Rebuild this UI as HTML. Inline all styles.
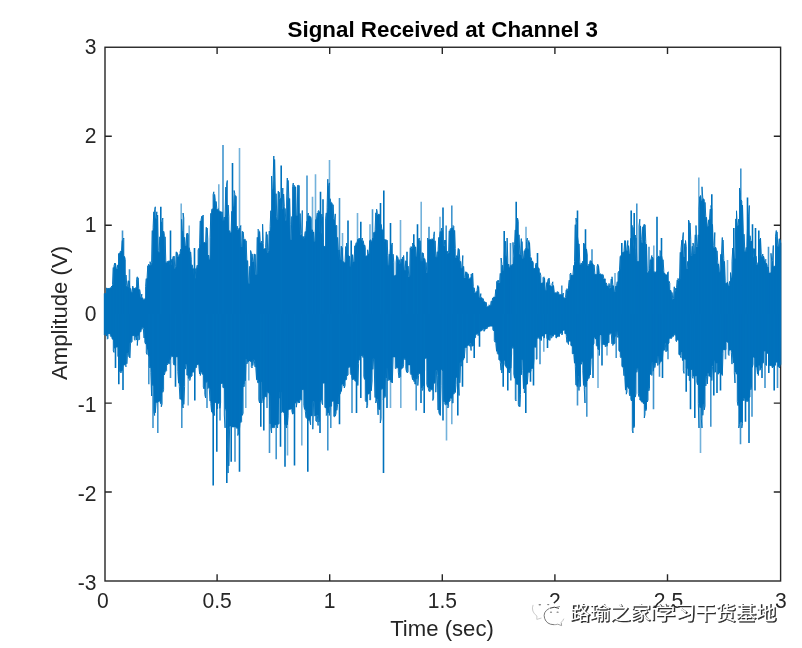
<!DOCTYPE html>
<html lang="en"><head><meta charset="utf-8"><title>Signal Received at Channel 3</title>
<style>html,body{margin:0;padding:0;background:#fff}body{width:802px;height:648px;overflow:hidden}</style></head>
<body>
<svg width="802" height="648" viewBox="0 0 802 648" style="display:block">
<rect width="802" height="648" fill="#fff"/>
<g fill="none" stroke="#262626" stroke-width="1.4">
<rect x="105.0" y="47.25" width="675.6" height="533.75"/>
<path d="M217.1,581.0v-6.8M217.1,47.25v6.8M329.7,581.0v-6.8M329.7,47.25v6.8M442.3,581.0v-6.8M442.3,47.25v6.8M554.9,581.0v-6.8M554.9,47.25v6.8M667.5,581.0v-6.8M667.5,47.25v6.8M105.0,136.2h6.8M780.6,136.2h-6.8M105.0,225.2h6.8M780.6,225.2h-6.8M105.0,314.1h6.8M780.6,314.1h-6.8M105.0,403.1h6.8M780.6,403.1h-6.8M105.0,492h6.8M780.6,492h-6.8"/>
</g>
<g fill="none" stroke="#0072BD" stroke-linejoin="miter" stroke-miterlimit="2">
<path d="M104.3,293.4 L105,293.8 L105.8,293.8 L106.5,293.8 L107.3,288.3 L108,288.6 L108.8,288.6 L109.5,288.6 L110.3,288.4 L111,287.7 L111.8,287.6 L112.5,286 L113.3,284.4 L114,267.5 L114.8,265.8 L115.5,268.5 L116.3,268.7 L117,268.7 L117.8,268.7 L118.5,264.9 L119.3,254 L120,253 L120.8,251.7 L121.5,251.1 L122.3,250.3 L123,240.5 L123.8,256.4 L124.5,259.5 L125.3,275 L126,285.7 L126.8,286.5 L127.5,286.5 L128.3,286.5 L129.1,287.9 L129.8,288.4 L130.6,292.2 L131.3,292.3 L132.1,292.3 L132.8,292.3 L133.6,288.3 L134.3,288.4 L135.1,288.4 L135.8,288.4 L136.6,287.5 L137.3,279.3 L138.1,288.5 L138.8,289.5 L139.6,292.9 L140.3,297.6 L141.1,297.6 L141.8,297.7 L142.6,299.8 L143.3,299.8 L144.1,299.8 L144.8,299.4 L145.6,298.6 L146.3,286.4 L147.1,278.6 L147.8,277.1 L148.6,265.7 L149.3,265.3 L150.1,265.3 L150.8,265.2 L151.6,265.2 L152.3,262.7 L153.1,230.6 L153.8,227.3 L154.6,211.8 L155.3,218.5 L156.1,218.5 L156.8,218.5 L157.6,250.5 L158.3,252.2 L159.1,252.2 L159.8,252.2 L160.6,236.8 L161.3,235.4 L162.1,221.9 L162.8,231.2 L163.6,233.6 L164.3,236.8 L165.1,260.9 L165.8,263.1 L166.6,263.1 L167.3,263.1 L168.1,261.5 L168.8,261.5 L169.6,264.8 L170.3,264.8 L171.1,264.8 L171.8,264.6 L172.6,259.3 L173.3,258.9 L174.1,268.4 L174.8,268.4 L175.6,268.4 L176.3,266.2 L177.1,256.3 L177.8,256.7 L178.6,256.7 L179.3,256.7 L180.1,254.3 L180.8,251.8 L181.6,249.2 L182.3,231.1 L183.1,231.1 L183.8,237.3 L184.6,245.7 L185.3,245.7 L186.1,245.7 L186.8,245.2 L187.6,234.9 L188.3,247.7 L189.1,250.5 L189.8,251.9 L190.6,259.8 L191.3,264.8 L192.1,268 L192.8,268.6 L193.6,272.7 L194.3,278.2 L195.1,278.2 L195.8,278.2 L196.6,268.5 L197.3,268.1 L198.1,265.1 L198.8,250.1 L199.6,248.3 L200.3,243.9 L201.1,220.9 L201.8,219.5 L202.6,216.2 L203.3,242.4 L204.1,242.5 L204.8,243 L205.6,243 L206.3,243 L207.1,239.1 L207.8,255 L208.6,259.6 L209.3,259.6 L210.1,259.6 L210.8,237.3 L211.6,213.3 L212.3,210.1 L213.1,208.7 L213.8,194.7 L214.6,200.3 L215.3,201.5 L216.1,208.3 L216.8,209.6 L217.6,209.6 L218.3,210.6 L219.1,211.5 L219.8,211.7 L220.6,211.8 L221.3,211.9 L222.1,220.3 L222.8,220.5 L223.6,220.5 L224.3,220.5 L225.1,217 L225.8,214 L226.6,187.1 L227.3,205 L228.1,216.7 L228.8,230.6 L229.6,232.7 L230.3,232.7 L231.1,232.7 L231.8,231.6 L232.6,211.3 L233.3,206.3 L234.1,206.3 L234.8,195.5 L235.6,196.7 L236.3,226 L237.1,229.7 L237.8,229.7 L238.6,229.7 L239.3,229.5 L240.1,228 L240.8,246.9 L241.6,246.9 L242.3,246.9 L243.1,238.8 L243.8,239.5 L244.6,239.5 L245.3,240.8 L246.1,259 L246.8,260.6 L247.6,279 L248.3,283.4 L249.1,283.4 L249.8,283.4 L250.6,266.3 L251.3,253.9 L252.1,262 L252.8,262.1 L253.6,262.1 L254.3,262.1 L255.1,274.4 L255.8,274.4 L256.6,274.4 L257.3,274.3 L258.1,237.3 L258.8,231.5 L259.6,242.8 L260.3,242.8 L261.1,242.8 L261.8,242.3 L262.6,243.7 L263.3,249.1 L264.1,249.1 L264.8,249.1 L265.6,248.4 L266.3,247.6 L267.1,252.8 L267.8,252.8 L268.6,252.8 L269.3,250.2 L270.1,231 L270.8,226.6 L271.6,210.7 L272.3,189.2 L273.1,189.2 L273.8,179.2 L274.6,192 L275.3,193.7 L276.1,216.4 L276.8,219.6 L277.6,219.6 L278.3,219.6 L279.1,198.7 L279.8,198.7 L280.6,209.3 L281.3,209.3 L282.1,209.3 L282.8,209.1 L283.6,206.3 L284.3,208.5 L285.1,220.4 L285.8,220.4 L286.6,220.4 L287.3,201 L288.1,196.2 L288.8,198.5 L289.6,224.1 L290.3,239.8 L291.1,239.8 L291.8,239.8 L292.6,216.5 L293.3,186.5 L294.1,186.8 L294.8,186.8 L295.6,215.5 L296.3,215.6 L297.1,215.6 L297.8,215.6 L298.6,185.6 L299.3,213.5 L300.1,234.9 L300.8,234.9 L301.6,234.9 L302.3,236.3 L303.1,238.3 L303.8,238.3 L304.6,238.3 L305.3,235.7 L306.1,231.5 L306.8,230.4 L307.6,221.3 L308.3,216 L309.1,216 L309.8,216.7 L310.6,219.1 L311.3,229.7 L312.1,231 L312.8,232 L313.6,241.5 L314.3,241.5 L315.1,241.5 L315.8,240.1 L316.6,219.5 L317.3,218 L318.1,213 L318.8,211.6 L319.6,231.8 L320.3,233.2 L321.1,233.2 L321.8,233.2 L322.6,242.3 L323.3,245.9 L324.1,246.6 L324.8,246.6 L325.6,246.6 L326.3,218.9 L327.1,212.9 L327.8,207.8 L328.6,185.7 L329.3,198.7 L330.1,202.3 L330.8,202.5 L331.6,204 L332.3,204.7 L333.1,218.6 L333.8,219.5 L334.6,219.5 L335.3,225.5 L336.1,225.5 L336.8,237.4 L337.6,249.4 L338.3,249.8 L339.1,259.3 L339.8,259.6 L340.6,259.6 L341.3,259.6 L342.1,260.2 L342.8,261.6 L343.6,262.8 L344.3,262.8 L345.1,262.8 L345.8,260.9 L346.6,246.5 L347.3,255.4 L348.1,255.7 L348.8,256.2 L349.6,266.6 L350.3,266.6 L351.1,266.6 L351.8,266.5 L352.6,262 L353.3,262 L354.1,262 L354.8,261.1 L355.6,245.8 L356.3,244.8 L357.1,242.7 L357.8,242.3 L358.6,239.3 L359.3,238.9 L360.1,240.3 L360.8,240.3 L361.6,240.3 L362.3,240.7 L363.1,244 L363.8,244.9 L364.6,247.4 L365.3,256.2 L366.1,256.2 L366.8,256.2 L367.6,255.7 L368.3,253.7 L369.1,253.7 L369.8,252.9 L370.6,241.4 L371.3,241.4 L372.1,241.4 L372.8,240.8 L373.6,238 L374.3,232.6 L375.1,232 L375.8,229.8 L376.6,212.8 L377.3,215.1 L378.1,215.1 L378.8,215.1 L379.6,223.9 L380.3,224.4 L381.1,228.7 L381.8,229.7 L382.6,231.4 L383.3,241.4 L384.1,241.4 L384.8,241.4 L385.6,239.8 L386.3,240.2 L387.1,255.7 L387.8,265.2 L388.6,265.2 L389.3,265.2 L390.1,254.1 L390.8,253.3 L391.6,245.1 L392.3,254.2 L393.1,262.3 L393.8,275.7 L394.6,275.7 L395.3,275.7 L396.1,275 L396.8,262.3 L397.6,259.3 L398.3,259.6 L399.1,263.4 L399.8,263.4 L400.6,263.4 L401.3,263.4 L402.1,259.1 L402.8,259 L403.6,267 L404.3,270.2 L405.1,270.2 L405.8,270.2 L406.6,265.8 L407.3,266.1 L408.1,276.9 L408.8,276.9 L409.6,276.9 L410.3,275 L411.1,248.4 L411.8,248.4 L412.6,248.4 L413.3,244.8 L414.1,246.7 L414.8,246.9 L415.6,256.4 L416.3,256.4 L417.1,256.4 L417.8,256 L418.6,239.5 L419.3,240.7 L420.1,257 L420.8,261.3 L421.6,261.3 L422.3,261.3 L423.1,257.6 L423.8,258.5 L424.6,260.6 L425.3,262.5 L426.1,272.7 L426.8,272.7 L427.6,272.7 L428.3,239.9 L429.1,239.9 L429.8,239.9 L430.6,239.6 L431.3,239.6 L432.1,240.1 L432.8,240.1 L433.6,240.1 L434.3,240.8 L435.1,256.1 L435.8,257.2 L436.6,257.2 L437.3,257.2 L438.1,251.7 L438.8,249.3 L439.6,237.4 L440.3,236.7 L441.1,231.5 L441.8,230.8 L442.6,245.2 L443.3,246 L444.1,246 L444.8,246 L445.6,251 L446.3,251 L447.1,253.5 L447.8,253.5 L448.6,253.5 L449.3,252.8 L450.1,230.8 L450.8,229.6 L451.6,228.4 L452.3,228.2 L453.1,227.8 L453.8,230.4 L454.6,248.5 L455.3,258 L456.1,258 L456.8,258 L457.6,255.8 L458.3,255.8 L459.1,259.6 L459.8,261.3 L460.6,268.3 L461.3,268.3 L462.1,268.3 L462.8,266.3 L463.6,277.4 L464.3,278 L465.1,278 L465.8,278 L466.6,273.1 L467.3,273.8 L468.1,278.3 L468.8,278.9 L469.6,278.9 L470.3,278.9 L471.1,277.6 L471.8,274.2 L472.6,286.3 L473.3,287.8 L474.1,292.6 L474.8,292.9 L475.6,292.9 L476.3,292.9 L477.1,291.4 L477.8,289.7 L478.6,297 L479.3,297.8 L480.1,297.8 L480.8,297.8 L481.6,298.1 L482.3,298.6 L483.1,301.2 L483.8,301.6 L484.6,302 L485.3,302.3 L486.1,306.5 L486.8,306.7 L487.6,306.7 L488.3,306.7 L489.1,306.1 L489.8,305.5 L490.6,305.5 L491.3,305.2 L492.1,301.1 L492.8,300.7 L493.6,297.9 L494.3,297.1 L495.1,296.9 L495.8,296.3 L496.6,289.5 L497.3,281.9 L498.1,282.9 L498.8,282.9 L499.6,282.9 L500.3,282.4 L501.1,273.3 L501.8,265.2 L502.6,270.8 L503.3,270.8 L504.1,270.8 L504.8,259.3 L505.6,255.2 L506.3,255.2 L507.1,260 L507.8,264 L508.6,267.4 L509.3,267.6 L510.1,267.6 L510.8,267.6 L511.6,265.5 L512.3,265.5 L513,264.2 L513.8,256.2 L514.5,256.2 L515.3,244.8 L516,229.9 L516.8,229.7 L517.5,221.3 L518.3,234.8 L519,253.3 L519.8,254.8 L520.5,254.8 L521.3,254.8 L522,258.5 L522.8,258.5 L523.5,258.5 L524.3,258.1 L525,250.7 L525.8,249.6 L526.5,248.4 L527.3,248.4 L528,248.4 L528.8,248.4 L529.5,256.5 L530.3,257.6 L531,260.5 L531.8,261.1 L532.5,262.7 L533.3,268.4 L534,268.4 L534.8,268.4 L535.5,268.4 L536.3,264.5 L537,267.4 L537.8,267.9 L538.5,268.6 L539.3,272.7 L540,275.3 L540.8,283.2 L541.5,283.2 L542.3,283.2 L543,282.7 L543.8,277.8 L544.5,290.2 L545.3,290.3 L546,290.3 L546.8,290.3 L547.5,282.5 L548.3,282.1 L549,284.6 L549.8,285.6 L550.5,286.5 L551.3,286.5 L552,286.5 L552.8,285.5 L553.5,292.1 L554.3,292.6 L555,292.9 L555.8,293.3 L556.5,293.3 L557.3,293.3 L558,292.8 L558.8,294.7 L559.5,294.7 L560.3,294.7 L561,295.2 L561.8,295.2 L562.5,295.2 L563.3,297.4 L564,298.3 L564.8,298.3 L565.5,298.3 L566.3,297.5 L567,291 L567.8,291 L568.5,291 L569.3,285.9 L570,280.1 L570.8,275 L571.5,275.2 L572.3,275.2 L573,275.2 L573.8,274.1 L574.5,265.3 L575.3,261.3 L576,224.7 L576.8,236.8 L577.5,242.3 L578.3,243.9 L579,261.9 L579.8,264.9 L580.5,264.9 L581.3,264.9 L582,263.6 L582.8,263.6 L583.5,261.2 L584.3,244.2 L585,248.7 L585.8,249.1 L586.5,255 L587.3,265.9 L588,265.9 L588.8,265.9 L589.5,264.2 L590.3,263.8 L591,261.6 L591.8,263.4 L592.5,264.2 L593.3,265 L594,272.9 L594.8,274.4 L595.5,274.4 L596.3,274.4 L597,274.3 L597.8,266.9 L598.5,273.1 L599.3,274.1 L600,274.1 L600.8,274.7 L601.5,274.7 L602.3,274.7 L603,278.4 L603.8,278.9 L604.5,278.9 L605.3,282.8 L606,284 L606.8,286 L607.5,286 L608.3,286 L609,288.3 L609.8,288.3 L610.5,288.3 L611.3,287.7 L612,284.7 L612.8,285.7 L613.5,292 L614.3,292 L615,292 L615.8,291.8 L616.5,286.1 L617.3,285.8 L618,281.7 L618.8,272.9 L619.5,271.3 L620.3,269.1 L621,256.3 L621.8,256.2 L622.5,256.2 L623.3,252.5 L624,252.1 L624.8,250.7 L625.5,250.6 L626.3,250.6 L627,250.6 L627.8,250.6 L628.5,254.1 L629.3,254.1 L630,254.1 L630.8,253.3 L631.5,238.3 L632.3,227.4 L633,244.1 L633.8,248.5 L634.5,248.5 L635.3,248.5 L636,258.6 L636.8,261.5 L637.5,261.5 L638.3,261.5 L639,261.3 L639.8,226.1 L640.5,239.4 L641.3,242.8 L642,242.8 L642.8,242.8 L643.5,226.8 L644.3,225.8 L645,241.7 L645.8,244.3 L646.5,271.7 L647.3,273.1 L648,273.1 L648.8,273.1 L649.5,271.3 L650.3,268.3 L651,259.7 L651.8,259.3 L652.5,258.6 L653.3,271.4 L654,272.8 L654.8,272.8 L655.5,272.8 L656.3,272.1 L657,271.3 L657.8,258.7 L658.5,257 L659.3,256.8 L660,256.8 L660.8,255.5 L661.5,259.1 L662.3,259.7 L663,270.2 L663.8,273.1 L664.5,273.8 L665.3,274.8 L666,274.9 L666.8,274.9 L667.5,274.9 L668.3,281.2 L669,283.2 L669.8,290 L670.5,291.6 L671.3,292.5 L672,299.3 L672.8,299.3 L673.5,299.3 L674.3,298.4 L675,291.3 L675.8,291.3 L676.5,288.1 L677.3,287.6 L678,280.4 L678.8,280.4 L679.5,280.4 L680.3,279 L681,252.3 L681.8,249 L682.5,240.2 L683.3,256.9 L684,256.9 L684.8,256.9 L685.5,246.8 L686.3,268.9 L687,268.9 L687.8,268.9 L688.5,261.3 L689.3,223 L690,239.6 L690.8,255.7 L691.5,255.7 L692.3,255.7 L693,246.2 L693.8,253.9 L694.5,253.9 L695.3,253.9 L696,246.9 L696.8,246.9 L697.5,246.9 L698.3,246.8 L699,234.8 L699.8,209.5 L700.5,200.8 L701.3,200.8 L702,200.8 L702.8,198.8 L703.5,199.5 L704.3,202.4 L705,217 L705.8,217.3 L706.5,226.4 L707.3,226.4 L708,226.4 L708.8,225.6 L709.5,219.8 L710.3,218.9 L711,209.1 L711.8,224.4 L712.5,245.4 L713.3,247.8 L714,247.8 L714.8,247.8 L715.5,248.6 L716.3,250.8 L717,262.9 L717.8,263.9 L718.5,272.3 L719.3,272.3 L720,272.3 L720.8,269 L721.5,254.3 L722.3,254 L723,258.6 L723.8,261.4 L724.5,280.9 L725.3,283.2 L726,283.2 L726.8,283.2 L727.5,285.8 L728.3,285.8 L729,285.8 L729.8,285.7 L730.5,281.2 L731.3,277.4 L732,277.4 L732.8,261.2 L733.5,258.1 L734.3,258.5 L735,258.5 L735.8,258.5 L736.5,225.8 L737.3,225.8 L738,225.8 L738.8,224.5 L739.5,219 L740.3,199.9 L741,201.1 L741.8,205.1 L742.5,230 L743.3,234.2 L744,249.9 L744.8,252 L745.5,252 L746.3,252 L747,247.4 L747.8,244.1 L748.5,219.2 L749.3,235.7 L750,240.5 L750.8,241.2 L751.5,256.6 L752.3,257.2 L753,257.2 L753.8,257.2 L754.5,254.5 L755.3,256.2 L756,264.8 L756.8,264.8 L757.5,264.8 L758.3,264.4 L759,262.3 L759.8,255.1 L760.5,254.5 L761.3,256.8 L762,256.8 L762.8,256.8 L763.5,258.9 L764.3,260.8 L765,260.8 L765.8,263.3 L766.5,266.2 L767.3,267 L768,272.3 L768.8,273.2 L769.5,273.2 L770.3,273.2 L771,272.7 L771.8,262 L772.5,262 L773.3,266.4 L774,266.4 L774.8,266.4 L775.5,266.1 L776.3,236.2 L777,246 L777.8,246.6 L778.5,246.6 L779.3,246.6 L780,243.5 L780.8,293.4 L780.8,335 L780,364.7 L779.3,365.9 L778.5,366.6 L777.8,362.3 L777,362.1 L776.3,362.1 L775.5,362.1 L774.8,365.2 L774,365.4 L773.3,366.4 L772.5,366.4 L771.8,365.7 L771,365.5 L770.3,365.4 L769.5,365.4 L768.8,353.3 L768,353.3 L767.3,353.3 L766.5,353.3 L765.8,351.2 L765,351 L764.3,351 L763.5,351 L762.8,362.7 L762,362.7 L761.3,362.7 L760.5,368 L759.8,365.4 L759,365.4 L758.3,365.4 L757.5,368 L756.8,367.2 L756,366.8 L755.3,357.7 L754.5,357.3 L753.8,357.3 L753,357.3 L752.3,364.4 L751.5,367.3 L750.8,387.2 L750,389.8 L749.3,397.1 L748.5,397.4 L747.8,401 L747,400.2 L746.3,400.2 L745.5,400.2 L744.8,398.3 L744,398.3 L743.3,398.3 L742.5,400.7 L741.8,422 L741,422 L740.3,422 L739.5,422 L738.8,405.6 L738,401.7 L737.3,374.2 L736.5,372 L735.8,372 L735,372 L734.3,362.9 L733.5,357.8 L732.8,357.8 L732,352.4 L731.3,350 L730.5,350 L729.8,350 L729,350.5 L728.3,342.4 L727.5,341.8 L726.8,341.8 L726,341.8 L725.3,349.2 L724.5,349.8 L723.8,349.8 L723,349.9 L722.3,353.3 L721.5,374.1 L720.8,372.9 L720,372.8 L719.3,372.8 L718.5,372.8 L717.8,363 L717,362.9 L716.3,362.9 L715.5,362.9 L714.8,360.5 L714,360.5 L713.3,360.5 L712.5,364.7 L711.8,366.5 L711,375.6 L710.3,375.6 L709.5,375.6 L708.8,373.2 L708,373.2 L707.3,373.2 L706.5,376.4 L705.8,376.4 L705,385.9 L704.3,404.4 L703.5,404.4 L702.8,404.4 L702,415.3 L701.3,407.4 L700.5,407.4 L699.8,407.4 L699,403.7 L698.3,384.8 L697.5,382.2 L696.8,376.1 L696,375.8 L695.3,375.8 L694.5,375.8 L693.8,376.3 L693,376.3 L692.3,369.5 L691.5,369.5 L690.8,369.5 L690,369.7 L689.3,376 L688.5,375.3 L687.8,368.7 L687,367.9 L686.3,359.3 L685.5,359.2 L684.8,359.2 L684,359.2 L683.3,360.5 L682.5,352.1 L681.8,352.1 L681,352.1 L680.3,355.1 L679.5,354.1 L678.8,340.5 L678,339.7 L677.3,339.7 L676.5,339.7 L675.8,335.4 L675,333.8 L674.3,333.8 L673.5,333.8 L672.8,336.4 L672,336.4 L671.3,337.9 L670.5,338.2 L669.8,338.2 L669,338.8 L668.3,343.1 L667.5,343.7 L666.8,350.6 L666,343.6 L665.3,343.6 L664.5,343.6 L663.8,350.1 L663,350.7 L662.3,351.5 L661.5,360.6 L660.8,361.3 L660,361.9 L659.3,356 L658.5,356 L657.8,356 L657,362.6 L656.3,362.6 L655.5,362.6 L654.8,363.5 L654,365.9 L653.3,362.4 L652.5,362.4 L651.8,362.4 L651,374 L650.3,374 L649.5,374.6 L648.8,388.3 L648,390.9 L647.3,400 L646.5,402 L645.8,409.3 L645,410.8 L644.3,403.8 L643.5,402.5 L642.8,402.2 L642,401.7 L641.3,400.4 L640.5,400 L639.8,396.7 L639,393.5 L638.3,368.6 L637.5,368.6 L636.8,368.6 L636,372.3 L635.3,393.6 L634.5,397.1 L633.8,426.7 L633,427.8 L632.3,401 L631.5,399.2 L630.8,396 L630,394.1 L629.3,388.5 L628.5,386.9 L627.8,386.9 L627,386.9 L626.3,390.1 L625.5,377.8 L624.8,375.7 L624,367.9 L623.3,367.2 L622.5,365.8 L621.8,357.8 L621,356.8 L620.3,351.6 L619.5,350.3 L618.8,337.6 L618,335.6 L617.3,331.5 L616.5,331.5 L615.8,331.5 L615,336.6 L614.3,343.3 L613.5,343.8 L612.8,343.8 L612,334.3 L611.3,333.1 L610.5,333.1 L609.8,333.1 L609,334.5 L608.3,342.4 L607.5,343.1 L606.8,344.6 L606,344.8 L605.3,344.8 L604.5,344.7 L603.8,344.6 L603,344.2 L602.3,335.2 L601.5,334.9 L600.8,334.9 L600,334.9 L599.3,337.1 L598.5,349 L597.8,346.3 L597,345.4 L596.3,339.1 L595.5,337.5 L594.8,337.5 L594,337.5 L593.3,343.2 L592.5,344.9 L591.8,356.9 L591,358.5 L590.3,362.9 L589.5,374.9 L588.8,376.7 L588,378.6 L587.3,378.9 L586.5,380.9 L585.8,385.1 L585,386.9 L584.3,385.4 L583.5,370.8 L582.8,361.8 L582,361.8 L581.3,361.8 L580.5,364.3 L579.8,386.3 L579,375.9 L578.3,375.9 L577.5,375.9 L576.8,385.1 L576,366.2 L575.3,363.2 L574.5,354.5 L573.8,353.9 L573,353.7 L572.3,346 L571.5,345.4 L570.8,341.6 L570,340.8 L569.3,340.8 L568.5,340.8 L567.8,342.4 L567,336.5 L566.3,333.9 L565.5,333.6 L564.8,330.3 L564,330.3 L563.3,330.3 L562.5,330.3 L561.8,333.2 L561,333.2 L560.3,333.2 L559.5,333.3 L558.8,336.2 L558,336.2 L557.3,336.2 L556.5,337.1 L555.8,334.9 L555,334.1 L554.3,334.1 L553.5,334.1 L552.8,336.1 L552,336.3 L551.3,335.1 L550.5,335.1 L549.8,335.1 L549,339.7 L548.3,339.5 L547.5,337.8 L546.8,333.9 L546,333.9 L545.3,333.9 L544.5,333.9 L543.8,335.9 L543,335.9 L542.3,335.9 L541.5,336.1 L540.8,338.8 L540,338.8 L539.3,337.2 L538.5,337.2 L537.8,337.2 L537,338.6 L536.3,347.2 L535.5,347.2 L534.8,347.2 L534,347.3 L533.3,359 L532.5,368.1 L531.8,368.2 L531,369 L530.3,370.6 L529.5,372.3 L528.8,372.3 L528,372.5 L527.3,374.3 L526.5,384.2 L525.8,384.5 L525,385.1 L524.3,388.7 L523.5,370.6 L522.8,359.7 L522,359.7 L521.3,359.7 L520.5,374.9 L519.8,394.5 L519,404.4 L518.3,384.4 L517.5,384.3 L516.8,384.3 L516,384.3 L515.3,378.2 L514.5,374 L513.8,348.6 L513,346.7 L512.3,346.7 L511.6,346.7 L510.8,354 L510.1,368.2 L509.3,370.4 L508.6,371.8 L507.8,368.1 L507.1,367.6 L506.3,366.4 L505.6,364.4 L504.8,360.4 L504.1,360.4 L503.3,360.4 L502.6,361.1 L501.8,364.2 L501.1,362.5 L500.3,360.4 L499.6,359.6 L498.8,354.4 L498.1,353.4 L497.3,351.3 L496.6,343.7 L495.8,342.2 L495.1,340.6 L494.3,330.9 L493.6,329.6 L492.8,326.6 L492.1,325.9 L491.3,325.9 L490.6,325.9 L489.8,326.1 L489.1,326.6 L488.3,326.6 L487.6,326.7 L486.8,327 L486.1,328.9 L485.3,328.9 L484.6,329.2 L483.8,328.8 L483.1,328.8 L482.3,328.8 L481.6,330.3 L480.8,330.8 L480.1,331 L479.3,331.4 L478.6,332.9 L477.8,333.7 L477.1,333.7 L476.3,333.7 L475.6,334.6 L474.8,337.5 L474.1,338.2 L473.3,345 L472.6,345.7 L471.8,346 L471.1,343.3 L470.3,343.3 L469.6,343.3 L468.8,345.3 L468.1,345.3 L467.3,345.3 L466.6,345.5 L465.8,347.5 L465.1,347.7 L464.3,348.2 L463.6,358.2 L462.8,359.7 L462.1,360.3 L461.3,362.8 L460.6,362.8 L459.8,362.8 L459.1,382.8 L458.3,377.8 L457.6,377.5 L456.8,377.5 L456.1,377.5 L455.3,384.6 L454.6,392.5 L453.8,392.5 L453.1,394.2 L452.3,398.2 L451.6,398.2 L450.8,398.2 L450.1,398.2 L449.3,401 L448.6,401.6 L447.8,404.8 L447.1,403 L446.3,403 L445.6,403 L444.8,401.9 L444.1,400.2 L443.3,370.8 L442.6,369.4 L441.8,369.4 L441.1,369.4 L440.3,385.2 L439.6,412.5 L438.8,410 L438.1,375.3 L437.3,370.6 L436.6,370.6 L435.8,370.6 L435.1,382.8 L434.3,382.8 L433.6,383.3 L432.8,390.3 L432.1,388.9 L431.3,388.9 L430.6,388.9 L429.8,389.2 L429.1,388.4 L428.3,387.2 L427.6,384.4 L426.8,358.3 L426.1,358.3 L425.3,358.3 L424.6,358.3 L423.8,369.8 L423.1,385.9 L422.3,387.9 L421.6,376.2 L420.8,374.2 L420.1,372.9 L419.3,372.9 L418.6,372.9 L417.8,375.6 L417.1,378.7 L416.3,378.7 L415.6,378.7 L414.8,381.7 L414.1,378.7 L413.3,378.7 L412.6,375.7 L411.8,374.7 L411.1,373.4 L410.3,364.9 L409.6,364.9 L408.8,364.9 L408.1,365.1 L407.3,371.8 L406.6,368.3 L405.8,359.9 L405.1,358.2 L404.3,358.2 L403.6,358.2 L402.8,364.9 L402.1,367.9 L401.3,368.5 L400.6,369.3 L399.8,376.5 L399.1,372.1 L398.3,367.9 L397.6,367.5 L396.8,367.5 L396.1,367.5 L395.3,357 L394.6,357 L393.8,357 L393.1,357.1 L392.3,358 L391.6,382 L390.8,380.1 L390.1,379.9 L389.3,379.7 L388.6,379.7 L387.8,368.2 L387.1,368.2 L386.3,368.2 L385.6,378 L384.8,396.4 L384.1,396.4 L383.3,388.5 L382.6,388.5 L381.8,388.5 L381.1,389.5 L380.3,409.6 L379.6,409.3 L378.8,409.3 L378.1,399.4 L377.3,399.4 L376.6,399.4 L375.8,397.5 L375.1,370 L374.3,358.7 L373.6,358.7 L372.8,358.7 L372.1,369.3 L371.3,381 L370.6,390.8 L369.8,393.7 L369.1,393.7 L368.3,393.7 L367.6,394.1 L366.8,401.8 L366.1,400.5 L365.3,379.4 L364.6,376.7 L363.8,357.6 L363.1,354.9 L362.3,354.9 L361.6,354.2 L360.8,354.2 L360.1,354.2 L359.3,359.9 L358.6,359.9 L357.8,363.8 L357.1,381.8 L356.3,381.2 L355.6,381 L354.8,379.4 L354.1,379.2 L353.3,379.2 L352.6,377.1 L351.8,374.8 L351.1,373.5 L350.3,366.8 L349.6,366.8 L348.8,366.8 L348.1,367.8 L347.3,375 L346.6,375.8 L345.8,379.2 L345.1,380.2 L344.3,385.5 L343.6,384.1 L342.8,384.1 L342.1,384.1 L341.3,385.6 L340.6,391.5 L339.8,393.1 L339.1,394.3 L338.3,402.8 L337.6,404 L336.8,404.4 L336.1,410.3 L335.3,413.1 L334.6,416.1 L333.8,401.3 L333.1,401.2 L332.3,401.2 L331.6,401.2 L330.8,406.2 L330.1,406.2 L329.3,407.8 L328.6,412.7 L327.8,412.7 L327.1,412.7 L326.3,408.1 L325.6,407.1 L324.8,383.3 L324.1,383.1 L323.3,383.1 L322.6,383.1 L321.8,400.1 L321.1,400.1 L320.3,400.1 L319.6,401.6 L318.8,420.5 L318.1,414.9 L317.3,414.9 L316.6,414.9 L315.8,415.9 L315.1,415.7 L314.3,401.5 L313.6,401.5 L312.8,401.5 L312.1,415.7 L311.3,415.7 L310.6,415.7 L309.8,420.4 L309.1,420.2 L308.3,418.9 L307.6,418.7 L306.8,417.7 L306.1,411.4 L305.3,409.4 L304.6,405.5 L303.8,389.8 L303.1,389.5 L302.3,389.5 L301.6,389.5 L300.8,399.6 L300.1,399.6 L299.3,400.2 L298.6,402.6 L297.8,401.4 L297.1,401.4 L296.3,401.4 L295.6,403 L294.8,403 L294.1,403.3 L293.3,413.2 L292.6,410.8 L291.8,409 L291.1,409 L290.3,409 L289.6,409 L288.8,409 L288.1,410.1 L287.3,415.6 L286.6,424.8 L285.8,424.6 L285.1,413.8 L284.3,412.5 L283.6,412.2 L282.8,411.6 L282.1,411.6 L281.3,391.9 L280.6,391.9 L279.8,391.9 L279.1,398.2 L278.3,423.7 L277.6,424.2 L276.8,424.7 L276.1,424.7 L275.3,424.7 L274.6,424.7 L273.8,427.4 L273.1,427.4 L272.3,427.4 L271.6,427.7 L270.8,423.8 L270.1,395.3 L269.3,393.2 L268.6,392.1 L267.8,391.8 L267.1,391.8 L266.3,391.8 L265.6,396.5 L264.8,396.5 L264.1,397 L263.3,396.9 L262.6,396.9 L261.8,381.8 L261.1,381.8 L260.3,381.8 L259.6,381.8 L258.8,383.1 L258.1,380.4 L257.3,379.7 L256.6,368.1 L255.8,366.9 L255.1,360.9 L254.3,359.7 L253.6,359.7 L252.8,359.7 L252.1,365.5 L251.3,361.6 L250.6,361 L249.8,360.9 L249.1,360.9 L248.3,360.9 L247.6,361.8 L246.8,358.9 L246.1,358.9 L245.3,358.9 L244.6,380.8 L243.8,384.4 L243.1,387 L242.3,413.1 L241.6,415.4 L240.8,421.8 L240.1,421.9 L239.3,421.9 L238.6,431 L237.8,428.5 L237.1,427.9 L236.3,426.9 L235.6,426.7 L234.8,426.7 L234.1,426.7 L233.3,426.9 L232.6,426.9 L231.8,425.9 L231.1,425.9 L230.3,425.9 L229.6,425.9 L228.8,427.9 L228.1,446.9 L227.3,411.9 L226.6,408.9 L225.8,408.9 L225.1,408.9 L224.3,388.1 L223.6,387.1 L222.8,383.5 L222.1,383.4 L221.3,383.4 L220.6,383.4 L219.8,402.9 L219.1,403 L218.3,403 L217.6,403.5 L216.8,402.4 L216.1,402.4 L215.3,402.4 L214.6,402.7 L213.8,413 L213.1,413 L212.3,411.8 L211.6,403.5 L210.8,401.1 L210.1,389.1 L209.3,387.8 L208.6,387.8 L207.8,381.6 L207.1,381.6 L206.3,381.6 L205.6,382.3 L204.8,389 L204.1,387.1 L203.3,374.5 L202.6,372.7 L201.8,372 L201.1,372 L200.3,372 L199.6,366.2 L198.8,364.4 L198.1,364.4 L197.3,364.4 L196.6,364.7 L195.8,367.4 L195.1,367.4 L194.3,367.4 L193.6,371 L192.8,372 L192.1,372.5 L191.3,375.9 L190.6,376.6 L189.8,376.7 L189.1,378.2 L188.3,375.3 L187.6,375.1 L186.8,364.3 L186.1,364.3 L185.3,364.3 L184.6,369.1 L183.8,386.6 L183.1,403.9 L182.3,400 L181.6,399.4 L180.8,399.2 L180.1,386.7 L179.3,383.2 L178.6,371.5 L177.8,357.1 L177.1,356.7 L176.3,356.7 L175.6,356.7 L174.8,365.1 L174.1,363.1 L173.3,356.5 L172.6,356.5 L171.8,355.7 L171.1,355.7 L170.3,355.7 L169.6,359.5 L168.8,363.1 L168.1,363.1 L167.3,363.1 L166.6,364.9 L165.8,370.6 L165.1,371.5 L164.3,372.5 L163.6,375 L162.8,389.8 L162.1,392.3 L161.3,403.7 L160.6,400.9 L159.8,400.9 L159.1,400.9 L158.3,401.5 L157.6,401.5 L156.8,402.5 L156.1,402.5 L155.3,402.9 L154.6,411.7 L153.8,385.7 L153.1,384.3 L152.3,384.3 L151.6,372.2 L150.8,368 L150.1,366.8 L149.3,356.2 L148.6,349.6 L147.8,349.6 L147.1,349.6 L146.3,344.1 L145.6,342.1 L144.8,338 L144.1,328.4 L143.3,327.6 L142.6,327.6 L141.8,327.6 L141.1,329.4 L140.3,331.3 L139.6,332.2 L138.8,335.8 L138.1,335.8 L137.3,335.8 L136.6,336.7 L135.8,336.7 L135.1,336.7 L134.3,335.6 L133.6,335.6 L132.8,335.6 L132.1,335.9 L131.3,341.5 L130.6,342.5 L129.8,342.7 L129.1,352.8 L128.3,352.8 L127.5,352.8 L126.8,353.1 L126,363.8 L125.3,364.8 L124.5,364.8 L123.8,364.8 L123,365.2 L122.3,365.2 L121.5,370.5 L120.8,371.6 L120,370.5 L119.3,357.3 L118.5,356 L117.8,347.3 L117,347.1 L116.3,347.1 L115.5,347.1 L114.8,347.9 L114,347.9 L113.3,339.4 L112.5,337.8 L111.8,336.7 L111,335.8 L110.3,333.8 L109.5,333.8 L108.8,333.8 L108,334 L107.3,336.1 L106.5,333.5 L105.8,333.5 L105,333.5 L104.3,335Z" fill="#0072BD" stroke="none"/>
<path d="M104.3,293.4 L104.3,335 L105,335 L105,293.3 L105.8,293.8 L105.8,333.5 L106.5,336.1 L106.5,288 L107.3,288.3 L107.3,339.2 L108,338.4 L108,288.3 L108.8,288.6 L108.8,334 L109.5,333.8 L109.5,288.4 L110.3,287.7 L110.3,335.8 L111,336.7 L111,287.6 L111.8,286 L111.8,337.8 L112.5,339.4 L112.5,284.4 L113.3,267.5 L113.3,351 L114,352.4 L114,265.8 L114.8,263 L114.8,347.9 L115.5,349.4 L115.5,263.4 L116.3,268.5 L116.3,347.1 L117,347.3 L117,268.7 L117.8,264.9 L117.8,356 L118.5,357.3 L118.5,254 L119.3,253 L119.3,370.5 L120,371.8 L120,251.7 L120.8,251.1 L120.8,373 L121.5,371.6 L121.5,250.3 L122.3,240.5 L122.3,370.5 L123,365.2 L123,239.7 L123.8,238 L123.8,365.2 L124.5,364.8 L124.5,256.4 L125.3,259.5 L125.3,365.4 L126,366.8 L126,275 L126.8,285.7 L126.8,363.8 L127.5,353.1 L127.5,286.5 L128.3,280.7 L128.3,352.8 L129.1,356.9 L129.1,281.1 L129.8,287.9 L129.8,358 L130.6,342.7 L130.6,288.4 L131.3,292.2 L131.3,342.5 L132.1,341.5 L132.1,292.3 L132.8,286 L132.8,335.9 L133.6,335.6 L133.6,287.8 L134.3,288.3 L134.3,339.6 L135.1,340.3 L135.1,288.4 L135.8,287.5 L135.8,336.7 L136.6,340 L136.6,279.3 L137.3,276.8 L137.3,345.5 L138.1,335.8 L138.1,277.8 L138.8,288.5 L138.8,340.1 L139.6,339.2 L139.6,289.5 L140.3,292.9 L140.3,332.2 L141.1,331.3 L141.1,297.6 L141.8,294.1 L141.8,329.4 L142.6,327.6 L142.6,297.7 L143.3,299.8 L143.3,328.4 L144.1,338 L144.1,299.4 L144.8,298.6 L144.8,342.1 L145.6,344.1 L145.6,286.4 L146.3,278.6 L146.3,353 L147.1,354.5 L147.1,277.1 L147.8,265.7 L147.8,349.6 L148.6,356.2 L148.6,264.1 L149.3,265.3 L149.3,366.8 L150.1,368 L150.1,261.7 L150.8,265.2 L150.8,372.2 L151.6,396 L151.6,262.7 L152.3,230.6 L152.3,384.3 L153.1,385.7 L153.1,227.3 L153.8,211.8 L153.8,411.7 L154.6,415.5 L154.6,209.6 L155.3,206.8 L155.3,412.8 L156.1,402.9 L156.1,218.5 L156.8,211.8 L156.8,402.5 L157.6,402.5 L157.6,215 L158.3,250.5 L158.3,401.5 L159.1,401.5 L159.1,252.2 L159.8,236.8 L159.8,400.9 L160.6,403.7 L160.6,235.4 L161.3,221.9 L161.3,406.8 L162.1,403.9 L162.1,220.5 L162.8,218 L162.8,392.3 L163.6,389.8 L163.6,231.2 L164.3,233.6 L164.3,375 L165.1,372.5 L165.1,236.8 L165.8,260.9 L165.8,371.5 L166.6,370.6 L166.6,263.1 L167.3,261.2 L167.3,364.9 L168.1,363.1 L168.1,261.5 L168.8,260.9 L168.8,364 L169.6,363.6 L169.6,260.8 L170.3,264.8 L170.3,359.5 L171.1,355.7 L171.1,264.6 L171.8,259.3 L171.8,356.9 L172.6,356.5 L172.6,258.9 L173.3,256.4 L173.3,363.1 L174.1,365.1 L174.1,256.1 L174.8,268.4 L174.8,365.2 L175.6,365.7 L175.6,266.2 L176.3,251.8 L176.3,356.7 L177.1,357.1 L177.1,252.5 L177.8,256.3 L177.8,371.5 L178.6,383.2 L178.6,256.7 L179.3,254.3 L179.3,386.7 L180.1,399.2 L180.1,251.8 L180.8,249.2 L180.8,399.4 L181.6,400 L181.6,219.3 L182.3,231.1 L182.3,403.9 L183.1,408 L183.1,213 L183.8,218 L183.8,404.4 L184.6,386.6 L184.6,237.3 L185.3,245.7 L185.3,369.1 L186.1,364.3 L186.1,245.2 L186.8,233.5 L186.8,375.1 L187.6,375.3 L187.6,233 L188.3,234.9 L188.3,378.2 L189.1,378.4 L189.1,247.7 L189.8,250.5 L189.8,380.5 L190.6,376.7 L190.6,251.9 L191.3,259.8 L191.3,376.6 L192.1,375.9 L192.1,264.8 L192.8,268 L192.8,372.5 L193.6,372 L193.6,268.6 L194.3,272.7 L194.3,371 L195.1,367.4 L195.1,278.2 L195.8,268.5 L195.8,367.8 L196.6,367.4 L196.6,268.1 L197.3,265.1 L197.3,364.7 L198.1,364.4 L198.1,250.1 L198.8,248.3 L198.8,366.2 L199.6,373.9 L199.6,243.9 L200.3,220.9 L200.3,375.5 L201.1,372 L201.1,219.5 L201.8,216.2 L201.8,372.7 L202.6,374.5 L202.6,215.9 L203.3,215 L203.3,387.1 L204.1,389 L204.1,242.4 L204.8,242.5 L204.8,394.6 L205.6,398 L205.6,243 L206.3,227.2 L206.3,382.3 L207.1,381.6 L207.1,228 L207.8,239.1 L207.8,388.6 L208.6,387.8 L208.6,255 L209.3,259.6 L209.3,389.1 L210.1,401.1 L210.1,237.3 L210.8,213.3 L210.8,403.5 L211.6,411.8 L211.6,210.1 L212.3,208.7 L212.3,413 L213.1,413.2 L213.1,194.7 L213.8,191.8 L213.8,413 L214.6,415.5 L214.6,194.4 L215.3,200.3 L215.3,402.7 L216.1,402.4 L216.1,201.5 L216.8,208.3 L216.8,408.9 L217.6,408.5 L217.6,209.6 L218.3,208.7 L218.3,403.5 L219.1,403 L219.1,210.6 L219.8,211.5 L219.8,408.3 L220.6,402.9 L220.6,211.7 L221.3,211.8 L221.3,383.4 L222.1,383.5 L222.1,211.9 L222.8,220.3 L222.8,387.1 L223.6,388.1 L223.6,220.5 L224.3,217 L224.3,415 L225.1,427.9 L225.1,214 L225.8,187.1 L225.8,408.9 L226.6,411.9 L226.6,184 L227.3,180.5 L227.3,446.9 L228.1,473 L228.1,205 L228.8,216.7 L228.8,465.9 L229.6,427.9 L229.6,230.6 L230.3,232.7 L230.3,425.9 L231.1,425.9 L231.1,231.6 L231.8,211.3 L231.8,427 L232.6,427 L232.6,195.5 L233.3,206.3 L233.3,426.9 L234.1,427.1 L234.1,190.5 L234.8,193.6 L234.8,426.7 L235.6,426.9 L235.6,195.5 L236.3,196.7 L236.3,427.9 L237.1,428.5 L237.1,226 L237.8,229.7 L237.8,435.5 L238.6,433 L238.6,229.5 L239.3,228 L239.3,431 L240.1,421.9 L240.1,227.8 L240.8,225.5 L240.8,422.6 L241.6,421.8 L241.6,246.9 L242.3,231.2 L242.3,415.4 L243.1,413.1 L243.1,231.9 L243.8,238.8 L243.8,387 L244.6,384.4 L244.6,239.5 L245.3,239.3 L245.3,380.8 L246.1,358.9 L246.1,240.8 L246.8,259 L246.8,363.9 L247.6,362.9 L247.6,260.6 L248.3,279 L248.3,361.8 L249.1,360.9 L249.1,283.4 L249.8,266.3 L249.8,361 L250.6,361.6 L250.6,250.5 L251.3,253 L251.3,366.6 L252.1,368 L252.1,253.9 L252.8,262 L252.8,365.5 L253.6,359.7 L253.6,262.1 L254.3,253.9 L254.3,360.9 L255.1,366.9 L255.1,254.3 L255.8,274.4 L255.8,368.1 L256.6,379.7 L256.6,274.3 L257.3,237.3 L257.3,380.4 L258.1,383.1 L258.1,229.2 L258.8,230.5 L258.8,399.9 L259.6,403 L259.6,231.5 L260.3,242.8 L260.3,381.8 L261.1,381.8 L261.1,242.3 L261.8,241.1 L261.8,403 L262.6,396.9 L262.6,224.2 L263.3,243.7 L263.3,400.5 L264.1,398.7 L264.1,249.1 L264.8,248.4 L264.8,397 L265.6,396.5 L265.6,247.6 L266.3,231.8 L266.3,397.2 L267.1,391.8 L267.1,234.5 L267.8,252.8 L267.8,392.1 L268.6,393.2 L268.6,250.2 L269.3,231 L269.3,395.3 L270.1,423.8 L270.1,226.6 L270.8,210.7 L270.8,428.2 L271.6,433 L271.6,176 L272.3,189.2 L272.3,427.7 L273.1,427.4 L273.1,179.2 L273.8,156 L273.8,427.9 L274.6,427.5 L274.6,159.5 L275.3,192 L275.3,424.7 L276.1,424.7 L276.1,193.7 L276.8,216.4 L276.8,427.1 L277.6,428 L277.6,219.6 L278.3,191.1 L278.3,424.2 L279.1,423.7 L279.1,192.1 L279.8,198.7 L279.8,398.2 L280.6,391.9 L280.6,198.4 L281.3,209.3 L281.3,412.6 L282.1,411.6 L282.1,209.1 L282.8,188 L282.8,412.2 L283.6,412.5 L283.6,194 L284.3,206.3 L284.3,413.8 L285.1,424.6 L285.1,208.5 L285.8,220.4 L285.8,424.9 L286.6,428 L286.6,201 L287.3,178 L287.3,424.8 L288.1,415.6 L288.1,180.4 L288.8,196.2 L288.8,410.1 L289.6,409 L289.6,198.5 L290.3,224.1 L290.3,409.3 L291.1,409 L291.1,239.8 L291.8,216.5 L291.8,410.8 L292.6,414.2 L292.6,186.5 L293.3,183 L293.3,413.5 L294.1,413.2 L294.1,185.2 L294.8,186.8 L294.8,403.3 L295.6,403 L295.6,186.8 L296.3,215.5 L296.3,407.2 L297.1,401.4 L297.1,215.6 L297.8,185.2 L297.8,402.6 L298.6,402.6 L298.6,185.3 L299.3,185.6 L299.3,403 L300.1,400.2 L300.1,213.5 L300.8,234.9 L300.8,399.6 L301.6,400 L301.6,233.4 L302.3,210.5 L302.3,389.5 L303.1,389.8 L303.1,236.3 L303.8,238.3 L303.8,405.5 L304.6,409.4 L304.6,235.7 L305.3,231.5 L305.3,411.4 L306.1,417.7 L306.1,230.4 L306.8,221.3 L306.8,418.7 L307.6,418.9 L307.6,215.8 L308.3,213 L308.3,420.2 L309.1,420.4 L309.1,216 L309.8,215.9 L309.8,421 L310.6,424.8 L310.6,216.7 L311.3,219.1 L311.3,415.7 L312.1,415.8 L312.1,229.7 L312.8,231 L312.8,429.2 L313.6,401.5 L313.6,232 L314.3,241.5 L314.3,415.7 L315.1,415.9 L315.1,240.1 L315.8,219.5 L315.8,420.9 L316.6,421.7 L316.6,218 L317.3,213 L317.3,414.9 L318.1,425.5 L318.1,211 L318.8,210.5 L318.8,422 L319.6,420.5 L319.6,211.6 L320.3,231.8 L320.3,401.6 L321.1,400.1 L321.1,233.2 L321.8,214.1 L321.8,402.6 L322.6,404.7 L322.6,216.8 L323.3,242.3 L323.3,383.1 L324.1,383.3 L324.1,245.9 L324.8,246.6 L324.8,407.1 L325.6,408.1 L325.6,218.9 L326.3,212.9 L326.3,415.5 L327.1,414 L327.1,207.8 L327.8,179.2 L327.8,412.7 L328.6,412.7 L328.6,185.7 L329.3,182.9 L329.3,415.5 L330.1,407.8 L330.1,198.7 L330.8,202.3 L330.8,406.2 L331.6,406.2 L331.6,202.5 L332.3,204 L332.3,401.2 L333.1,401.3 L333.1,204.7 L333.8,218.6 L333.8,416.4 L334.6,416.8 L334.6,219.5 L335.3,213.9 L335.3,416.1 L336.1,413.1 L336.1,225.5 L336.8,225.5 L336.8,410.3 L337.6,404.4 L337.6,237.4 L338.3,249.4 L338.3,404 L339.1,402.8 L339.1,249.8 L339.8,259.3 L339.8,394.3 L340.6,393.1 L340.6,259.6 L341.3,246.1 L341.3,391.5 L342.1,385.6 L342.1,247.5 L342.8,260.2 L342.8,384.1 L343.6,386.1 L343.6,261.6 L344.3,262.8 L344.3,388 L345.1,385.5 L345.1,260.9 L345.8,246.5 L345.8,380.2 L346.6,379.2 L346.6,243 L347.3,246.5 L347.3,375.8 L348.1,375 L348.1,255.4 L348.8,255.7 L348.8,367.8 L349.6,366.8 L349.6,256.2 L350.3,266.6 L350.3,373.5 L351.1,374.8 L351.1,266.5 L351.8,254.9 L351.8,377.1 L352.6,379.9 L352.6,254.7 L353.3,262 L353.3,379.2 L354.1,379.4 L354.1,261.1 L354.8,245.8 L354.8,381 L355.6,381.2 L355.6,244.8 L356.3,242.7 L356.3,381.8 L357.1,383.6 L357.1,242.3 L357.8,239.3 L357.8,385.5 L358.6,363.8 L358.6,238.9 L359.3,238 L359.3,359.9 L360.1,360.1 L360.1,238.6 L360.8,240.3 L360.8,354.2 L361.6,355.8 L361.6,240.3 L362.3,238 L362.3,354.9 L363.1,357.6 L363.1,240.7 L363.8,244 L363.8,376.7 L364.6,379.4 L364.6,244.9 L365.3,247.4 L365.3,400.5 L366.1,401.8 L366.1,256.2 L366.8,255.7 L366.8,408 L367.6,405.4 L367.6,249.8 L368.3,253.7 L368.3,394.1 L369.1,393.7 L369.1,252.9 L369.8,240.5 L369.8,400 L370.6,399.8 L370.6,239.7 L371.3,241.4 L371.3,390.8 L372.1,381 L372.1,240.8 L372.8,238 L372.8,369.3 L373.6,358.7 L373.6,232.6 L374.3,232 L374.3,370 L375.1,397.5 L375.1,229.8 L375.8,212.8 L375.8,403 L376.6,400 L376.6,209.2 L377.3,212.2 L377.3,399.4 L378.1,414.9 L378.1,215.1 L378.8,213.9 L378.8,409.3 L379.6,409.6 L379.6,214.4 L380.3,223.9 L380.3,423 L381.1,418.7 L381.1,224.4 L381.8,228.7 L381.8,389.5 L382.6,388.5 L382.6,229.7 L383.3,231.4 L383.3,400 L384.1,396.4 L384.1,241.4 L384.8,239.2 L384.8,397.6 L385.6,396.6 L385.6,239.8 L386.3,239.8 L386.3,378 L387.1,368.2 L387.1,240.2 L387.8,255.7 L387.8,380.9 L388.6,379.7 L388.6,265.2 L389.3,254.1 L389.3,379.9 L390.1,380.1 L390.1,253.3 L390.8,245.1 L390.8,382 L391.6,382.2 L391.6,244.3 L392.3,243 L392.3,383 L393.1,358 L393.1,254.2 L393.8,262.3 L393.8,357.1 L394.6,357 L394.6,275.7 L395.3,275 L395.3,368.4 L396.1,368.7 L396.1,262.3 L396.8,255.5 L396.8,367.5 L397.6,367.9 L397.6,256.7 L398.3,259.3 L398.3,372.1 L399.1,378 L399.1,259.6 L399.8,263.4 L399.8,377.4 L400.6,376.5 L400.6,263.4 L401.3,259.1 L401.3,369.3 L402.1,368.5 L402.1,259 L402.8,257 L402.8,367.9 L403.6,364.9 L403.6,255.5 L404.3,267 L404.3,358.2 L405.1,359.9 L405.1,270.2 L405.8,260.7 L405.8,368.3 L406.6,372.2 L406.6,261.1 L407.3,265.8 L407.3,373 L408.1,371.8 L408.1,266.1 L408.8,276.9 L408.8,365.1 L409.6,364.9 L409.6,275 L410.3,247.7 L410.3,373.4 L411.1,374.7 L411.1,246.5 L411.8,248.4 L411.8,375.7 L412.6,379.7 L412.6,243 L413.3,244.6 L413.3,378.7 L414.1,381.7 L414.1,244.8 L414.8,246.7 L414.8,384 L415.6,384.1 L415.6,246.9 L416.3,256.4 L416.3,378.7 L417.1,378.8 L417.1,256 L417.8,239.5 L417.8,385.5 L418.6,375.6 L418.6,239 L419.3,238 L419.3,372.9 L420.1,374.2 L420.1,240.7 L420.8,257 L420.8,376.2 L421.6,387.9 L421.6,261.3 L422.3,252.6 L422.3,390.5 L423.1,388.9 L423.1,253 L423.8,257.6 L423.8,385.9 L424.6,369.8 L424.6,258.5 L425.3,260.6 L425.3,358.3 L426.1,358.3 L426.1,262.5 L426.8,272.7 L426.8,384.4 L427.6,387.2 L427.6,238 L428.3,239.9 L428.3,388.4 L429.1,391.3 L429.1,239.9 L429.8,239.5 L429.8,391.8 L430.6,389.2 L430.6,239.4 L431.3,239.6 L431.3,388.9 L432.1,390.3 L432.1,238.6 L432.8,240.1 L432.8,400.5 L433.6,398 L433.6,236.4 L434.3,231.8 L434.3,383.3 L435.1,382.8 L435.1,240.8 L435.8,256.1 L435.8,392.2 L436.6,370.6 L436.6,257.2 L437.3,251.7 L437.3,375.3 L438.1,410 L438.1,249.3 L438.8,237.4 L438.8,412.5 L439.6,414.5 L439.6,236.7 L440.3,231.5 L440.3,415.5 L441.1,385.2 L441.1,230.8 L441.8,228 L441.8,369.4 L442.6,370.8 L442.6,230.4 L443.3,245.2 L443.3,400.2 L444.1,401.9 L444.1,246 L444.8,240 L444.8,404.3 L445.6,404.9 L445.6,240 L446.3,251 L446.3,403 L447.1,404.8 L447.1,251 L447.8,253.5 L447.8,408 L448.6,406.7 L448.6,252.8 L449.3,230.8 L449.3,401.6 L450.1,401 L450.1,229.6 L450.8,228.4 L450.8,398.2 L451.6,398.2 L451.6,228.2 L452.3,227.8 L452.3,402.9 L453.1,403 L453.1,225.5 L453.8,226.4 L453.8,394.2 L454.6,392.5 L454.6,230.4 L455.3,248.5 L455.3,392.5 L456.1,384.6 L456.1,258 L456.8,255.5 L456.8,377.5 L457.6,377.8 L457.6,255.8 L458.3,248.4 L458.3,383.7 L459.1,395.5 L459.1,249.3 L459.8,259.6 L459.8,382.8 L460.6,362.8 L460.6,261.3 L461.3,268.3 L461.3,366 L462.1,365.4 L462.1,265 L462.8,255.5 L462.8,360.3 L463.6,359.7 L463.6,266.3 L464.3,277.4 L464.3,358.2 L465.1,348.2 L465.1,278 L465.8,271.7 L465.8,347.7 L466.6,347.5 L466.6,272.1 L467.3,273.1 L467.3,345.5 L468.1,345.3 L468.1,273.8 L468.8,278.3 L468.8,345.5 L469.6,346.1 L469.6,278.9 L470.3,277.6 L470.3,343.3 L471.1,350.5 L471.1,274 L471.8,274.2 L471.8,346.5 L472.6,346 L472.6,273 L473.3,286.3 L473.3,345.7 L474.1,345 L474.1,287.8 L474.8,292.6 L474.8,338.2 L475.6,337.5 L475.6,292.9 L476.3,291.4 L476.3,334.6 L477.1,333.7 L477.1,289.7 L477.8,285.5 L477.8,335.4 L478.6,335.3 L478.6,286.6 L479.3,297 L479.3,332.9 L480.1,331.4 L480.1,297.8 L480.8,293.6 L480.8,331 L481.6,330.8 L481.6,297.4 L482.3,298.1 L482.3,330.3 L483.1,328.8 L483.1,298.6 L483.8,301.2 L483.8,331.2 L484.6,331 L484.6,301.6 L485.3,302 L485.3,329.2 L486.1,328.9 L486.1,302.3 L486.8,306.5 L486.8,328.9 L487.6,327 L487.6,306.7 L488.3,306.1 L488.3,326.7 L489.1,326.6 L489.1,304.8 L489.8,305.5 L489.8,326.6 L490.6,326.1 L490.6,305.2 L491.3,301.1 L491.3,325.9 L492.1,326.6 L492.1,300.7 L492.8,297.9 L492.8,329.6 L493.6,330.9 L493.6,297.1 L494.3,296.9 L494.3,340.6 L495.1,342.2 L495.1,296.3 L495.8,289.5 L495.8,343.7 L496.6,351.3 L496.6,281.9 L497.3,280.8 L497.3,353.4 L498.1,354.4 L498.1,280 L498.8,282.9 L498.8,359.6 L499.6,360.4 L499.6,282.4 L500.3,273.3 L500.3,362.5 L501.1,370.2 L501.1,258 L501.8,263.4 L501.8,373 L502.6,364.2 L502.6,265.2 L503.3,270.8 L503.3,361.1 L504.1,360.4 L504.1,259.3 L504.8,242.8 L504.8,364.4 L505.6,366.4 L505.6,241.2 L506.3,255.2 L506.3,367.6 L507.1,368.1 L507.1,238 L507.8,260 L507.8,371.8 L508.6,372.2 L508.6,264 L509.3,267.4 L509.3,373 L510.1,370.4 L510.1,267.6 L510.8,265.3 L510.8,368.2 L511.6,354 L511.6,265.5 L512.3,264.2 L512.3,346.7 L513,348.6 L513,242.4 L513.8,256.2 L513.8,374 L514.5,378.2 L514.5,244.8 L515.3,229.9 L515.3,399.5 L516,401 L516,229.7 L516.8,218.7 L516.8,384.3 L517.5,384.4 L517.5,218 L518.3,221.3 L518.3,404.4 L519,406.4 L519,234.8 L519.8,253.3 L519.8,406.8 L520.5,394.5 L520.5,254.8 L521.3,238.6 L521.3,374.9 L522,359.7 L522,241.6 L522.8,258.5 L522.8,370.6 L523.5,388.7 L523.5,258.1 L524.3,250.7 L524.3,393 L525,390.7 L525,249.6 L525.8,248.4 L525.8,385.1 L526.5,384.5 L526.5,241.3 L527.3,238 L527.3,384.2 L528,374.3 L528,248.4 L528.8,240.5 L528.8,372.5 L529.5,372.3 L529.5,242.5 L530.3,256.5 L530.3,372.5 L531,370.6 L531,257.6 L531.8,260.5 L531.8,369 L532.5,368.2 L532.5,261.1 L533.3,262.7 L533.3,368.1 L534,359 L534,268.4 L534.8,268.4 L534.8,347.3 L535.5,347.2 L535.5,264.5 L536.3,263 L536.3,359.1 L537,359.2 L537,263.6 L537.8,267.4 L537.8,338.6 L538.5,337.2 L538.5,267.9 L539.3,268.6 L539.3,339 L540,338.8 L540,272.7 L540.8,275.3 L540.8,340.5 L541.5,340.3 L541.5,283.2 L542.3,282.7 L542.3,336.1 L543,335.9 L543,277.7 L543.8,276.8 L543.8,337.9 L544.5,337.7 L544.5,277.8 L545.3,290.2 L545.3,333.9 L546,333.9 L546,290.3 L546.8,282.5 L546.8,337.8 L547.5,339.5 L547.5,282.1 L548.3,278.9 L548.3,339.7 L549,339.9 L549,278 L549.8,284.6 L549.8,340.5 L550.5,335.1 L550.5,285.6 L551.3,286.5 L551.3,337.9 L552,337.7 L552,283.8 L552.8,281.8 L552.8,336.3 L553.5,336.1 L553.5,285.5 L554.3,292.1 L554.3,334.1 L555,334.9 L555,292.6 L555.8,292.9 L555.8,337.7 L556.5,338 L556.5,293.3 L557.3,291.6 L557.3,337.1 L558,336.2 L558,291.8 L558.8,292.8 L558.8,336.6 L559.5,336.4 L559.5,294.7 L560.3,294.4 L560.3,333.3 L561,333.2 L561,294.3 L561.8,295.2 L561.8,335 L562.5,334 L562.5,295.1 L563.3,293 L563.3,330.3 L564,330.3 L564,297.4 L564.8,298.3 L564.8,333.6 L565.5,333.9 L565.5,297.5 L566.3,289.8 L566.3,336.5 L567,342.4 L567,288.6 L567.8,291 L567.8,342.6 L568.5,344.5 L568.5,285.9 L569.3,280.1 L569.3,340.8 L570,341.6 L570,274.2 L570.8,273 L570.8,345.4 L571.5,346 L571.5,275 L572.3,275.2 L572.3,353.7 L573,353.9 L573,274.1 L573.8,265.3 L573.8,354.5 L574.5,363.2 L574.5,261.3 L575.3,224.7 L575.3,366.2 L576,385.1 L576,218 L576.8,222.6 L576.8,386.3 L577.5,386.5 L577.5,236.8 L578.3,242.3 L578.3,375.9 L579,390.5 L579,243.9 L579.8,261.9 L579.8,386.9 L580.5,386.3 L580.5,264.9 L581.3,263 L581.3,364.3 L582,361.8 L582,263.6 L582.8,261.2 L582.8,370.8 L583.5,385.4 L583.5,243 L584.3,243.8 L584.3,389.4 L585,403 L585,244.2 L585.8,248.7 L585.8,386.9 L586.5,385.1 L586.5,249.1 L587.3,255 L587.3,380.9 L588,378.9 L588,265.9 L588.8,264.2 L588.8,378.6 L589.5,376.7 L589.5,263.8 L590.3,260.5 L590.3,374.9 L591,362.9 L591,261 L591.8,261.6 L591.8,358.5 L592.5,356.9 L592.5,263.4 L593.3,264.2 L593.3,344.9 L594,343.2 L594,265 L594.8,272.9 L594.8,337.5 L595.5,339.1 L595.5,274.4 L596.3,274.3 L596.3,345.4 L597,346.3 L597,266.9 L597.8,264.2 L597.8,349 L598.5,349.8 L598.5,265.6 L599.3,273.1 L599.3,355.5 L600,337.1 L600,274.1 L600.8,273.8 L600.8,334.9 L601.5,335.2 L601.5,274.7 L602.3,274.3 L602.3,344.2 L603,344.6 L603,274.7 L603.8,278.4 L603.8,344.7 L604.5,344.9 L604.5,278.9 L605.3,278.9 L605.3,346.8 L606,344.8 L606,282.8 L606.8,284 L606.8,346.4 L607.5,344.6 L607.5,286 L608.3,285.4 L608.3,343.1 L609,342.4 L609,283.4 L609.8,288.3 L609.8,334.5 L610.5,333.1 L610.5,287.7 L611.3,279 L611.3,334.3 L612,343.9 L612,276.8 L612.8,284.7 L612.8,345.5 L613.5,343.8 L613.5,285.7 L614.3,292 L614.3,343.9 L615,343.3 L615,291.8 L615.8,286.1 L615.8,336.6 L616.5,331.5 L616.5,285.8 L617.3,281.7 L617.3,335.6 L618,337.6 L618,272.9 L618.8,271.3 L618.8,350.3 L619.5,351.6 L619.5,269.1 L620.3,256.3 L620.3,356.8 L621,357.8 L621,255.3 L621.8,256.2 L621.8,365.8 L622.5,367.2 L622.5,252.5 L623.3,252.1 L623.3,367.9 L624,375.7 L624,250.7 L624.8,240.5 L624.8,377.8 L625.5,390.1 L625.5,240.8 L626.3,250.6 L626.3,394.2 L627,391.8 L627,250.6 L627.8,240.5 L627.8,386.9 L628.5,388.5 L628.5,245.7 L629.3,254.1 L629.3,394.1 L630,396 L630,253.3 L630.8,238.3 L630.8,399.2 L631.5,401 L631.5,227.2 L632.3,225.5 L632.3,430.3 L633,433 L633,227.4 L633.8,244.1 L633.8,427.8 L634.5,426.7 L634.5,248.5 L635.3,235 L635.3,397.1 L636,393.6 L636,237.8 L636.8,258.6 L636.8,372.3 L637.5,368.6 L637.5,261.5 L638.3,261.3 L638.3,393.5 L639,396.7 L639,226.1 L639.8,219.2 L639.8,400 L640.5,400.4 L640.5,225.9 L641.3,239.4 L641.3,401.7 L642,402.2 L642,242.8 L642.8,226.8 L642.8,402.5 L643.5,403.8 L643.5,225.8 L644.3,224.2 L644.3,418 L645,414.4 L645,224.8 L645.8,241.7 L645.8,410.8 L646.5,409.3 L646.5,244.3 L647.3,271.7 L647.3,402 L648,400 L648,273.1 L648.8,271.3 L648.8,390.9 L649.5,388.3 L649.5,268.3 L650.3,259.7 L650.3,374.6 L651,374 L651,259.3 L651.8,255.5 L651.8,375.5 L652.5,362.4 L652.5,257.1 L653.3,258.6 L653.3,371.2 L654,365.9 L654,271.4 L654.8,272.8 L654.8,367.6 L655.5,363.5 L655.5,272.1 L656.3,271.3 L656.3,362.6 L657,363 L657,258.7 L657.8,257 L657.8,365.5 L658.5,356 L658.5,255.9 L659.3,256.8 L659.3,364.3 L660,362.5 L660,250.5 L660.8,251.8 L660.8,361.9 L661.5,361.3 L661.5,255.5 L662.3,259.1 L662.3,360.6 L663,351.5 L663,259.7 L663.8,270.2 L663.8,350.7 L664.5,350.1 L664.5,273.1 L665.3,273.8 L665.3,343.6 L666,351.8 L666,274.8 L666.8,274.9 L666.8,351.2 L667.5,350.6 L667.5,272.5 L668.3,271.8 L668.3,343.7 L669,343.1 L669,281.2 L669.8,283.2 L669.8,338.8 L670.5,338.2 L670.5,290 L671.3,291.6 L671.3,338.5 L672,337.9 L672,292.5 L672.8,299.3 L672.8,336.4 L673.5,336.4 L673.5,298.4 L674.3,286.8 L674.3,333.8 L675,335.4 L675,291.3 L675.8,288.1 L675.8,340.6 L676.5,341.7 L676.5,287.6 L677.3,279.9 L677.3,339.7 L678,340.5 L678,278.4 L678.8,280.4 L678.8,354.1 L679.5,355.1 L679.5,279 L680.3,252.3 L680.3,355.7 L681,357.7 L681,249 L681.8,240.2 L681.8,352.1 L682.5,360.5 L682.5,238.8 L683.3,232.5 L683.3,370.5 L684,373.4 L684,256.9 L684.8,243.6 L684.8,359.2 L685.5,359.3 L685.5,240.5 L686.3,246.8 L686.3,367.9 L687,368.7 L687,268.9 L687.8,261.3 L687.8,375.3 L688.5,376 L688.5,220 L689.3,221.6 L689.3,380.5 L690,380 L690,223 L690.8,239.6 L690.8,369.7 L691.5,369.5 L691.5,255.7 L692.3,246.2 L692.3,376.5 L693,378.4 L693,243 L693.8,246 L693.8,376.3 L694.5,376.5 L694.5,253.9 L695.3,234.8 L695.3,375.8 L696,376.1 L696,225.5 L696.8,246.9 L696.8,382.2 L697.5,384.8 L697.5,246.8 L698.3,234.8 L698.3,403.7 L699,428 L699,209.5 L699.8,196.6 L699.8,407.4 L700.5,407.4 L700.5,195.5 L701.3,200.8 L701.3,418.8 L702,428 L702,186.8 L702.8,198.2 L702.8,415.3 L703.5,404.4 L703.5,198.8 L704.3,199.5 L704.3,409.9 L705,406 L705,202.4 L705.8,217 L705.8,385.9 L706.5,376.4 L706.5,217.3 L707.3,226.4 L707.3,384 L708,373.2 L708,225.6 L708.8,219.8 L708.8,376.1 L709.5,376.3 L709.5,218.9 L710.3,209.1 L710.3,375.6 L711,377.3 L711,205.5 L711.8,209.1 L711.8,380.5 L712.5,366.5 L712.5,224.4 L713.3,245.4 L713.3,364.7 L714,360.5 L714,247.8 L714.8,232.5 L714.8,372.5 L715.5,372 L715.5,247.1 L716.3,248.6 L716.3,362.9 L717,363 L717,250.8 L717.8,262.9 L717.8,374 L718.5,374.1 L718.5,263.9 L719.3,272.3 L719.3,372.8 L720,372.9 L720,269 L720.8,254.3 L720.8,374.1 L721.5,374.2 L721.5,254 L722.3,237.5 L722.3,375.5 L723,353.3 L723,240 L723.8,258.6 L723.8,349.9 L724.5,349.8 L724.5,261.4 L725.3,280.9 L725.3,350.1 L726,349.2 L726,283.2 L726.8,283 L726.8,341.8 L727.5,342.4 L727.5,282.1 L728.3,285.8 L728.3,354.3 L729,355.5 L729,285.7 L729.8,281.2 L729.8,350.5 L730.5,350 L730.5,272.6 L731.3,277.4 L731.3,352.4 L732,364.1 L732,261.2 L732.8,248 L732.8,357.8 L733.5,362.9 L733.5,249.7 L734.3,258.1 L734.3,372.7 L735,383 L735,258.5 L735.8,218.9 L735.8,372 L736.5,374.2 L736.5,210.8 L737.3,225.8 L737.3,401.7 L738,405.6 L738,224.5 L738.8,219 L738.8,428 L739.5,424.5 L739.5,188 L740.3,192.6 L740.3,422 L741,422 L741,199.9 L741.8,201.1 L741.8,428 L742.5,423.6 L742.5,205.1 L743.3,230 L743.3,400.7 L744,398.3 L744,234.2 L744.8,249.9 L744.8,400.5 L745.5,401.4 L745.5,252 L746.3,247.4 L746.3,400.2 L747,401.8 L747,244.1 L747.8,219.2 L747.8,401.3 L748.5,401 L748.5,216.1 L749.3,205.5 L749.3,397.4 L750,397.1 L750,235.7 L750.8,240.5 L750.8,389.8 L751.5,387.2 L751.5,241.2 L752.3,256.6 L752.3,367.3 L753,364.4 L753,257.2 L753.8,248.5 L753.8,357.3 L754.5,357.7 L754.5,248.9 L755.3,254.5 L755.3,366.8 L756,367.2 L756,256.2 L756.8,264.8 L756.8,368 L757.5,374 L757.5,264.4 L758.3,262.3 L758.3,375.5 L759,365.4 L759,255.1 L759.8,239.2 L759.8,370.3 L760.5,369.7 L760.5,238 L761.3,254.5 L761.3,368 L762,362.7 L762,256.8 L762.8,254.1 L762.8,363.3 L763.5,362.8 L763.5,256.1 L764.3,258.9 L764.3,351 L765,351.2 L765,260.8 L765.8,259.3 L765.8,365 L766.5,365.5 L766.5,263.3 L767.3,266.2 L767.3,353.3 L768,353.3 L768,267 L768.8,272.3 L768.8,365.4 L769.5,365.4 L769.5,273.2 L770.3,272.7 L770.3,365.5 L771,365.7 L771,253.3 L771.8,262 L771.8,366.4 L772.5,368 L772.5,260.4 L773.3,245.5 L773.3,366.6 L774,366.4 L774,266.4 L774.8,266.1 L774.8,365.4 L775.5,365.2 L775.5,236.2 L776.3,230.5 L776.3,362.1 L777,362.3 L777,231.9 L777.8,246 L777.8,366.6 L778.5,366.7 L778.5,246.6 L779.3,238.7 L779.3,368 L780,365.9 L780,239.6 L780.8,243.5 L780.8,364.7" stroke-width="0.95"/>
<path d="M181.2,314.1V203.5M189.2,314.1V225.5M218.8,314.1V184.2M239.5,314.1V148M312.5,314.1V196.8M315.5,314.1V174.2M329.5,314.1V160M342.5,314.1V233M357.5,314.1V213M370,314.1V224.2M400.5,314.1V220M421.2,314.1V201.8M440,314.1V216.8M526,314.1V226.8M615,314.1V273M653.8,314.1V245.5M698.8,314.1V177.5M727.5,314.1V260M188.2,314.1V405.5M245.8,314.1V408M248.8,314.1V380.5M287.5,314.1V455.5M301.8,314.1V445.5M390.5,314.1V408M400.8,314.1V408M446.5,314.1V440.5M451.8,314.1V424.2M543.8,314.1V351.8M598,314.1V388M607,314.1V355.5M700.5,314.1V453" stroke-width="1.6" stroke-opacity="0.55"/>
<path d="M122.5,314.1V230.5M129.5,314.1V269.2M223,314.1V145M307,314.1V175.5M339.5,314.1V198M372.5,314.1V209.2M429,314.1V226.8M446.2,314.1V225.5M451.8,314.1V205.5M510.5,314.1V243M561.8,314.1V285.5M592,314.1V249.2M636.8,314.1V203.5M649,314.1V246.8M740.8,314.1V168.5M768.5,314.1V246.8M148.8,314.1V384.2M153,314.1V428M157.8,314.1V433M170.5,314.1V378M181.8,314.1V428M207,314.1V408M220,314.1V420.5M235,314.1V461.8M267,314.1V408M269.5,314.1V453M276.2,314.1V459.2M327.8,314.1V450.5M330.8,314.1V428M352,314.1V413M416.2,314.1V410.5M467,314.1V363M510.8,314.1V380.5M540,314.1V364.2M577.5,314.1V405.5M586.8,314.1V416.8M616.2,314.1V358M653.5,314.1V409.2M659.5,314.1V376.8M668,314.1V359.2M710.8,314.1V426.8M725.5,314.1V359.2M740.5,314.1V444.2M752,314.1V416.8M765,314.1V388M777.5,314.1V388" stroke-width="1.6" stroke-opacity="0.75"/>
<path d="M160.8,314.1V206.8M170.5,314.1V230.5M194.5,314.1V248M232.5,314.1V163M281.2,314.1V165.5M320.5,314.1V191.8M323,314.1V199.2M348,314.1V220.5M351.2,314.1V240.5M360.8,314.1V221.8M380.5,314.1V203M383.8,314.1V190.5M390.5,314.1V223M407,314.1V251.8M413.8,314.1V234.2M417.5,314.1V224.2M443,314.1V207.5M504.2,314.1V231M516.2,314.1V201.8M537.5,314.1V253M577.5,314.1V210.5M585.5,314.1V229.2M621.8,314.1V243M631.2,314.1V210.5M634.2,314.1V213M657,314.1V216.8M661.5,314.1V238M711.8,314.1V194.2M733.8,314.1V228M747.5,314.1V197.5M752.5,314.1V224.2M755.5,314.1V228M758.8,314.1V230.5M115.5,314.1V368M118.8,314.1V384.2M123,314.1V390M175.5,314.1V386.8M194.8,314.1V400.5M213.2,314.1V485.5M216.8,314.1V451.8M226.8,314.1V483M231.2,314.1V461.8M239.5,314.1V471.8M260.8,314.1V426.8M263.8,314.1V430.5M280.5,314.1V446.8M285,314.1V466.8M294.5,314.1V465.5M307.8,314.1V471.8M320,314.1V433M339.5,314.1V424.2M356.5,314.1V413M360.8,314.1V398M383.5,314.1V473M387,314.1V408M421,314.1V403M424.2,314.1V413M443,314.1V420.5M457.8,314.1V415.5M462.5,314.1V386.8M474.2,314.1V358M479.5,314.1V346.8M503.2,314.1V386.8M507.8,314.1V390.5M525.8,314.1V413M530.5,314.1V381.8M533.5,314.1V385.5M547.5,314.1V348M593,314.1V378M602,314.1V365.5M662.5,314.1V378M686.2,314.1V391.8M690.5,314.1V409.2M694.8,314.1V418M713.8,314.1V395.5M717,314.1V393M720.5,314.1V390.5M745.5,314.1V421.8M749,314.1V443M755,314.1V390.5M762,314.1V378M768.8,314.1V373M774.2,314.1V390.5" stroke-width="1.6" stroke-opacity="1.0"/>
</g>
<g font-family="'Liberation Sans', Arial, Helvetica, sans-serif" fill="#262626">
<text transform="translate(102.9,608.1) scale(0.98,1)" font-size="21.5" text-anchor="middle" >0</text>
<text transform="translate(217.1,608.1) scale(0.98,1)" font-size="21.5" text-anchor="middle" >0.5</text>
<text transform="translate(329.7,608.1) scale(0.98,1)" font-size="21.5" text-anchor="middle" >1</text>
<text transform="translate(442.3,608.1) scale(0.98,1)" font-size="21.5" text-anchor="middle" >1.5</text>
<text transform="translate(554.9,608.1) scale(0.98,1)" font-size="21.5" text-anchor="middle" >2</text>
<text transform="translate(668.5,608.1) scale(0.98,1)" font-size="21.5" text-anchor="middle" >2.5</text>
<text transform="translate(780.9,608.1) scale(0.98,1)" font-size="21.5" text-anchor="middle" >3</text>
<text transform="translate(96.4,53.6) scale(0.98,1)" font-size="21.5" text-anchor="end" >3</text>
<text transform="translate(96.4,143.4) scale(0.98,1)" font-size="21.5" text-anchor="end" >2</text>
<text transform="translate(96.4,232.4) scale(0.98,1)" font-size="21.5" text-anchor="end" >1</text>
<text transform="translate(96.4,321.3) scale(0.98,1)" font-size="21.5" text-anchor="end" >0</text>
<text transform="translate(96.4,411.5) scale(0.98,1)" font-size="21.5" text-anchor="end" >-1</text>
<text transform="translate(96.4,500.7) scale(0.98,1)" font-size="21.5" text-anchor="end" >-2</text>
<text transform="translate(96.4,589.8) scale(0.98,1)" font-size="21.5" text-anchor="end" >-3</text>
<text transform="translate(442,636.4) scale(1.02,1)" font-size="21.7" text-anchor="middle" >Time (sec)</text>
<text transform="translate(67.3,313) rotate(-90) scale(1.02,1)" font-size="21.7" text-anchor="middle">Amplitude (V)</text>
<text transform="translate(442.8,37) scale(1.04,1)" font-size="21.5" font-weight="bold" fill="#000" text-anchor="middle">Signal Received at Channel 3</text>
</g>
<g id="wm">
<ellipse cx="544.0" cy="608.3" rx="11.6" ry="9.8" fill="#fff"/>
<path d="M536.2,615.5 L536.6,619.6 L541.5,618.2Z" fill="#fff"/>
<path d="M533.1,604.9A11.6,9.8 0 0 0 536.9,616.0L536.8,619.4L541.5,618" fill="none" stroke="#c4c4c4" stroke-width="0.9"/>
<ellipse cx="554.3" cy="616.0" rx="11.6" ry="10.299999999999999" fill="#fff"/>
<path d="M558.5,623.5 L562,626 L561.3,622Z" fill="#fff"/>
<path d="M559.0,608.3A10.0,8.7 0 0 0 549.6,608.3" fill="none" stroke="#3c3c3c" stroke-width="1"/>
<path d="M549.0,608.6A10.0,8.7 0 0 0 554.0,624.7" fill="none" stroke="#6a6a6a" stroke-width="0.9"/>
<path d="M554.0,624.7A10.0,8.7 0 0 0 557.7,624.2L561.6,625.6 L561.3,622.6 " fill="none" stroke="#8a8a8a" stroke-width="0.8"/>
<path d="M561.0,622.5A10.0,8.7 0 0 0 563.8,618.7" fill="none" stroke="#b5b5b5" stroke-width="0.8"/>
<g fill="#7a7a7a"><ellipse cx="539.8" cy="604.8" rx="1.3" ry="0.7"/><ellipse cx="548.2" cy="604.6" rx="1.2" ry="0.7"/><ellipse cx="551" cy="612.2" rx="1.1" ry="0.6"/><ellipse cx="557.6" cy="612.2" rx="1.1" ry="0.6"/></g>
<g font-family="'Liberation Sans','Noto Sans CJK SC',sans-serif" font-size="19.5" font-weight="400">
<text x="570.9" y="620.8" fill="#2e2e2e" stroke="#2e2e2e" stroke-width="0.45" textLength="206.5" lengthAdjust="spacingAndGlyphs">路瑜之家i学习干货基地</text>
<text x="569.8" y="619.6" fill="#fff" textLength="206.5" lengthAdjust="spacingAndGlyphs">路瑜之家i学习干货基地</text>
</g></g>
</svg>
</body></html>
